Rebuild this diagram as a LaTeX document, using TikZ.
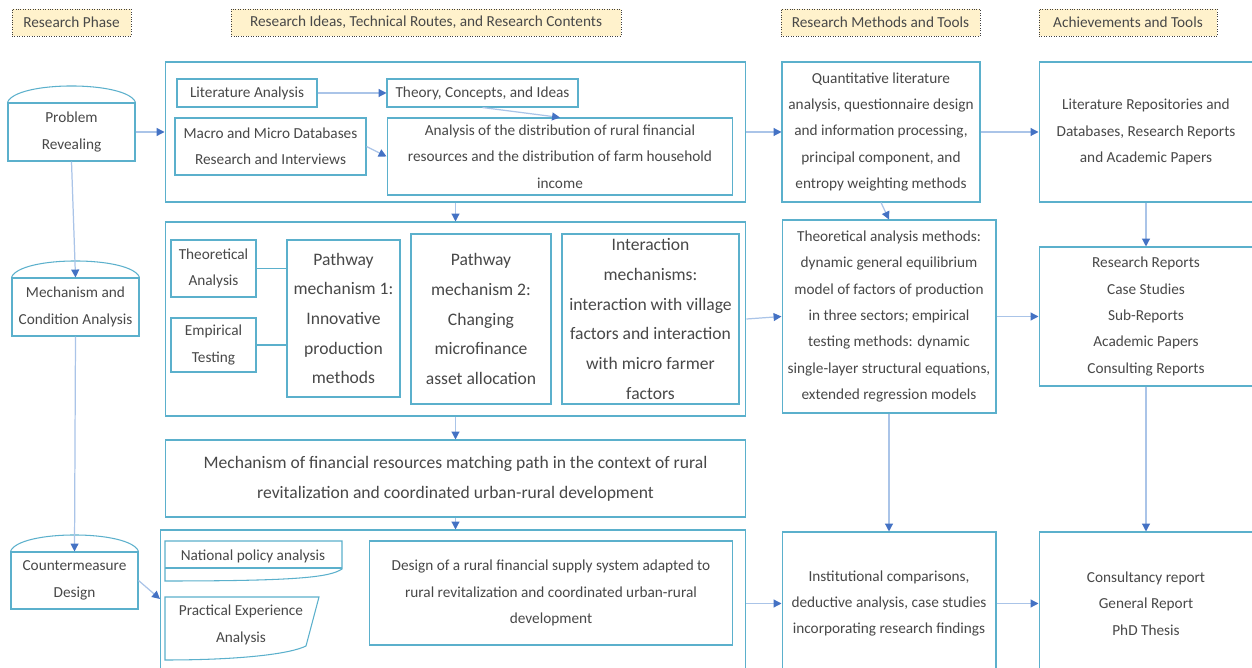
\documentclass[tikz,border=0pt]{standalone}
\usepackage{fontspec}
\setmainfont{Carlito}
\usetikzlibrary{arrows.meta}
\definecolor{boxblue}{RGB}{91,176,204}
\definecolor{linkblue}{RGB}{170,196,232}
\definecolor{tipblue}{RGB}{68,114,196}
\definecolor{hdrfill}{RGB}{255,242,204}
\definecolor{txtgrey}{RGB}{72,72,72}

\begin{document}
\begin{tikzpicture}[x=0.02cm, y=-0.02cm,
    every node/.style={text=txtgrey, font=\fontsize{8.7}{15}\selectfont, align=center, inner sep=0pt},
    hdr/.style={draw=black!75, densely dotted, fill=hdrfill, minimum height=0.54cm},
    box/.style={draw=boxblue, line width=0.6pt},
    big/.style={font=\fontsize{10}{16.9}\selectfont},
    arr/.style={draw=linkblue, line width=0.7pt, -{Triangle[length=4.5pt,width=4.5pt,color=tipblue]}},
    link/.style={draw=boxblue, line width=0.6pt}]
    \fill[white] (0,0) rectangle (1252,668);
    \clip (0,0) rectangle (1252,668);
    % column headers
    \node[hdr, minimum width=2.38cm] (hphase) at (71.5,22.5) {Research Phase};
    \node[hdr, minimum width=7.8cm] (hideas) at (426,22.5) {Research Ideas, Technical Routes, and Research Contents};
    \node[hdr, minimum width=3.98cm] (hmeth) at (880.5,22.5) {Research Methods and Tools};
    \node[hdr, minimum width=3.56cm] (hach) at (1128,22.5) {Achievements and Tools};
    % research phases
    \node[box, minimum width=2.54cm, minimum height=1.16cm] (prob) at (71.5,132) {Problem\\Revealing};
    \node[box, minimum width=2.54cm, minimum height=1.16cm] (mech) at (75.5,307) {Mechanism and\\Condition Analysis};
    \node[box, minimum width=2.54cm, minimum height=1.14cm] (cntr) at (74.5,580.5) {Countermeasure\\Design};
    \foreach \s in {prob,mech,cntr}
        \draw[link] (\s.north west) .. controls +(8,-22) and +(-8,-22) .. (\s.north east);
    % frames of the contents column
    \node[box, minimum width=11.62cm, minimum height=2.8cm] (fr1) at (455.5,132) {};
    \node[box, minimum width=11.62cm, minimum height=3.88cm] (fr2) at (455.5,319) {};
    \node[box, big, minimum width=11.62cm, minimum height=1.54cm] (fr3) at (455.5,478.5) {Mechanism of financial resources matching path in the context of rural\\revitalization and coordinated urban-rural development};
    \node[box, minimum width=11.72cm, minimum height=3.2cm] (fr4) at (453,610) {};
    % first frame
    \node[box, minimum width=2.8cm, minimum height=0.56cm] (lit) at (247,93) {Literature Analysis};
    \node[box, minimum width=3.82cm, minimum height=0.56cm] (theory) at (482.5,93) {Theory, Concepts, and Ideas};
    \node[box, minimum width=3.82cm, minimum height=1.14cm] (macro) at (270.5,146.5) {Macro and Micro Databases\\Research and Interviews};
    \node[box, minimum width=6.92cm, minimum height=1.54cm] (distr) at (560,156.5) {Analysis of the distribution of rural financial\\resources and the distribution of farm household\\income};
    % second frame
    \node[box, minimum width=1.7cm, minimum height=1.14cm] (theo) at (213.5,268.5) {Theoretical\\Analysis};
    \node[box, minimum width=1.7cm, minimum height=1.08cm] (emp) at (213.5,345) {Empirical\\Testing};
    \node[box, big, minimum width=2.26cm, minimum height=3.14cm] (pm1) at (343.5,318.5) {Pathway\\mechanism 1:\\Innovative\\production\\methods};
    \node[box, big, minimum width=2.8cm, minimum height=3.4cm] (pm2) at (481,319) {Pathway\\mechanism 2:\\Changing\\microfinance\\asset allocation};
    \node[box, big, minimum width=3.54cm, minimum height=3.4cm] (inter) at (650.5,319) {Interaction\\mechanisms:\\interaction with village\\factors and interaction\\with micro farmer\\factors};
    % fourth frame
    \draw[link] (165,541) -- (342,541) -- (342,569) .. controls (330,577) and (300,581) .. (165,581) -- cycle;
    \draw[link] (165,568) -- (342,568);
    \node[fill=white, inner xsep=2pt, inner ysep=1pt] (natl) at (253,556) {National policy analysis};
    \draw[link] (165,597) -- (319,597) -- (306,646) .. controls (290,654) and (240,660) .. (165,660) -- cycle;
    \node (pract) at (241,625) {Practical Experience\\Analysis};
    \node[box, minimum width=7.28cm, minimum height=2.08cm] (design) at (551,593) {Design of a rural financial supply system adapted to\\rural revitalization and coordinated urban-rural\\development};
    % methods and tools
    \node[box, minimum width=3.96cm, minimum height=2.8cm] (quant) at (881,132) {Quantitative literature\\analysis, questionnaire design\\and information processing,\\principal component, and\\entropy weighting methods};
    \node[box, minimum width=4.28cm, minimum height=3.86cm] (tmeth) at (889,316.5) {Theoretical analysis methods:\\dynamic general equilibrium\\model of factors of production\\in three sectors; empirical\\testing methods: dynamic\\single-layer structural equations,\\extended regression models};
    \node[box, minimum width=4.28cm, minimum height=2.86cm] (inst) at (889,603.5) {Institutional comparisons,\\deductive analysis, case studies\\incorporating research findings};
    % achievements
    \node[box, minimum width=4.28cm, minimum height=2.8cm] (lrepo) at (1146,132) {Literature Repositories and\\Databases, Research Reports\\and Academic Papers};
    \node[box, minimum width=4.28cm, minimum height=2.78cm] (rrep) at (1146,316.5) {Research Reports\\Case Studies\\Sub-Reports\\Academic Papers\\Consulting Reports};
    \node[box, minimum width=4.28cm, minimum height=2.86cm] (cons) at (1146,603.5) {Consultancy report\\General Report\\PhD Thesis};
    % connectors
    \coordinate (cin) at (160,599);
    \path (prob.east) edge[arr] (fr1.west);
    \path (prob.south) edge[arr] (mech.north);
    \path (mech.south) edge[arr] (cntr.north);
    \path (cntr.east) edge[arr] (cin);
    \path (lit) edge[arr] (theory);
    \path (macro.east) edge[arr] (distr.west);
    \path (theory.south) edge[arr] (distr.north);
    \path (fr1.south) edge[arr] (fr2.north);
    \path (fr2.south) edge[arr] (fr3.north);
    \path (fr3.south) edge[arr] (fr3.south |- fr4.north);
    \path (fr1.east) edge[arr] (quant.west);
    \path (fr2.east) edge[arr] (tmeth.west);
    \path (fr4.east |- inst.west) edge[arr] (inst.west);
    \path (quant.south) edge[arr] (tmeth.north);
    \path (tmeth.south) edge[arr] (inst.north);
    \path (quant.east) edge[arr] (lrepo.west);
    \path (tmeth.east) edge[arr] (rrep.west);
    \path (inst.east) edge[arr] (cons.west);
    \path (lrepo.south) edge[arr] (rrep.north);
    \path (rrep.south) edge[arr] (cons.north);
    \path (theo.east) edge[link] (theo.east -| pm1.west);
    \path (emp.east) edge[link] (emp.east -| pm1.west);
\end{tikzpicture}
\end{document}
